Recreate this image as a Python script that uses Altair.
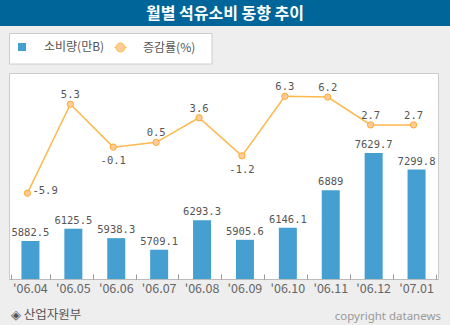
import altair as alt
import pandas as pd

months = ["'06.04", "'06.05", "'06.06", "'06.07", "'06.08", "'06.09", "'06.10", "'06.11", "'06.12", "'07.01"]
volume = [5882.5, 6125.5, 5938.3, 5709.1, 6293.3, 5905.6, 6146.1, 6889, 7629.7, 7299.8]
rate = [-5.9, 5.3, -0.1, 0.5, 3.6, -1.2, 6.3, 6.2, 2.7, 2.7]
rate_label_pos = ["right", "above", "below", "above", "above", "below", "above", "above", "above", "above"]

title_text = "월별 석유소비 동향 추이"
vol_name = "소비량(만B)"
rate_name = "증감률(%)"
source_text = "◈ 산업자원부"
copyright_text = "copyright datanews"

df = pd.DataFrame({
    "month": months,
    "volume": volume,
    "vol_label": [f"{v:g}" for v in volume],
    "rate": rate,
    "rate_label": [f"{r:g}" for r in rate],
    "pos": rate_label_pos,
    "vs": [vol_name] * len(months),
    "rs": [rate_name] * len(months),
})

W, H = 429, 206
KR = "Noto Sans CJK KR"
MONO = "DejaVu Sans Mono"
VOL_MIN = 5128

x_bottom = alt.X("month:N", sort=months, title=None,
                 axis=alt.Axis(orient="bottom", labelAngle=0, ticks=False, domainColor="#bbbbbb",
                               labelFont=KR, labelFontSize=12.5, labelColor="#666666", labelPadding=3))
x_top = alt.X("month:N", sort=months, title=None,
              axis=alt.Axis(orient="top", offset=-H, labels=False, domain=False, ticks=True,
                            tickBand="extent", tickSize=5, tickColor="#999999"))
x_plain = alt.X("month:N", sort=months, title=None)

y_vol = alt.Y("volume:Q", scale=alt.Scale(domain=[VOL_MIN, 9215], zero=False, nice=False), axis=None)
y_rate = alt.Y("rate:Q", scale=alt.Scale(domain=[-16.7, 9.23], zero=False, nice=False), axis=None)

base = alt.Chart(df)

bars = base.mark_bar(size=18, clip=True).encode(
    x=x_bottom,
    y=y_vol,
    y2=alt.Y2(datum=VOL_MIN),
    color=alt.Color("vs:N", scale=alt.Scale(domain=[vol_name], range=["#459fd1"]),
                    legend=alt.Legend(title=None, orient="none", legendX=7, legendY=-32,
                                      symbolType="square", symbolSize=64, labelOffset=16,
                                      padding=0, symbolStrokeWidth=0)),
)
bar_text = base.mark_text(font=MONO, fontSize=10.5, color="#555555", baseline="alphabetic", dy=-5).encode(
    x=x_plain, y=y_vol, text="vol_label:N")
bar_group = alt.layer(bars, bar_text)

legend_path = "M-1,0L-0.75,0M0.75,0L1,0M-0.75,0A0.75,0.75 0 1,1 0.75,0A0.75,0.75 0 1,1 -0.75,0Z"
line = base.mark_line(strokeWidth=1.5, xOffset=-3).encode(
    x=x_top,
    y=y_rate,
    color=alt.Color("rs:N", scale=alt.Scale(domain=[rate_name], range=["#ffb84d"]),
                    legend=alt.Legend(title=None, orient="none", legendX=105, legendY=-32,
                                      symbolType=legend_path, symbolSize=144, labelOffset=16,
                                      padding=0, symbolStrokeWidth=1,
                                      symbolFillColor="#ffcc99", symbolStrokeColor="#ffaa33")),
)
points = base.mark_circle(size=40, color="#ffcc99", stroke="#ffaa33", strokeWidth=1, opacity=1,
                          xOffset=-3).encode(x=x_plain, y=y_rate)
lab_above = base.transform_filter(alt.datum.pos == "above").mark_text(
    font=MONO, fontSize=10.5, color="#555555", baseline="alphabetic", dy=-6, xOffset=-3
).encode(x=x_plain, y=y_rate, text="rate_label:N")
lab_below = base.transform_filter(alt.datum.pos == "below").mark_text(
    font=MONO, fontSize=10.5, color="#555555", baseline="alphabetic", dy=17, xOffset=-3
).encode(x=x_plain, y=y_rate, text="rate_label:N")
lab_right = base.transform_filter(alt.datum.pos == "right").mark_text(
    font=MONO, fontSize=10.5, color="#555555", baseline="alphabetic", align="left", dx=5, dy=1, xOffset=-3
).encode(x=x_plain, y=y_rate, text="rate_label:N")
line_group = alt.layer(line, points, lab_above, lab_below, lab_right)

one = alt.Chart(pd.DataFrame({"a": [0]}))
title_bar = one.mark_rect(color="#006699").encode(
    x=alt.value(-9), x2=alt.value(441), y=alt.value(-73), y2=alt.value(-47))
title_mark = one.mark_text(font=KR, fontSize=16, fontWeight="bold", color="white", baseline="middle").encode(
    x=alt.value(216), y=alt.value(-59), text=alt.value(title_text))
legend_box = one.mark_rect(fill="white", stroke="#cccccc", strokeWidth=1).encode(
    x=alt.value(0.5), x2=alt.value(203), y=alt.value(-39.5), y2=alt.value(-9))
source_mark = one.mark_text(font=KR, fontSize=12.5, color="#555555", align="left", baseline="middle").encode(
    x=alt.value(2), y=alt.value(242), text=alt.value(source_text))
copy_mark = one.mark_text(font="Noto Sans", fontSize=11.5, color="#999999", align="right", baseline="middle").encode(
    x=alt.value(432), y=alt.value(244), text=alt.value(copyright_text))
deco = alt.layer(title_bar, title_mark, legend_box, source_mark, copy_mark)

chart = alt.layer(deco, bar_group, line_group).resolve_scale(
    y="independent", color="independent"
).resolve_axis(x="independent").properties(
    width=W, height=H,
    autosize=alt.AutoSizeParams(type="none"),
    padding={"left": 9, "top": 73, "right": 12, "bottom": 46},
    background="#eeeeee",
).configure_view(fill="white", stroke="#cccccc").configure_legend(
    labelFont=KR, labelFontSize=12, labelColor="#555555"
)

chart.save("out.html", embed_options={"renderer": "svg", "actions": False})
